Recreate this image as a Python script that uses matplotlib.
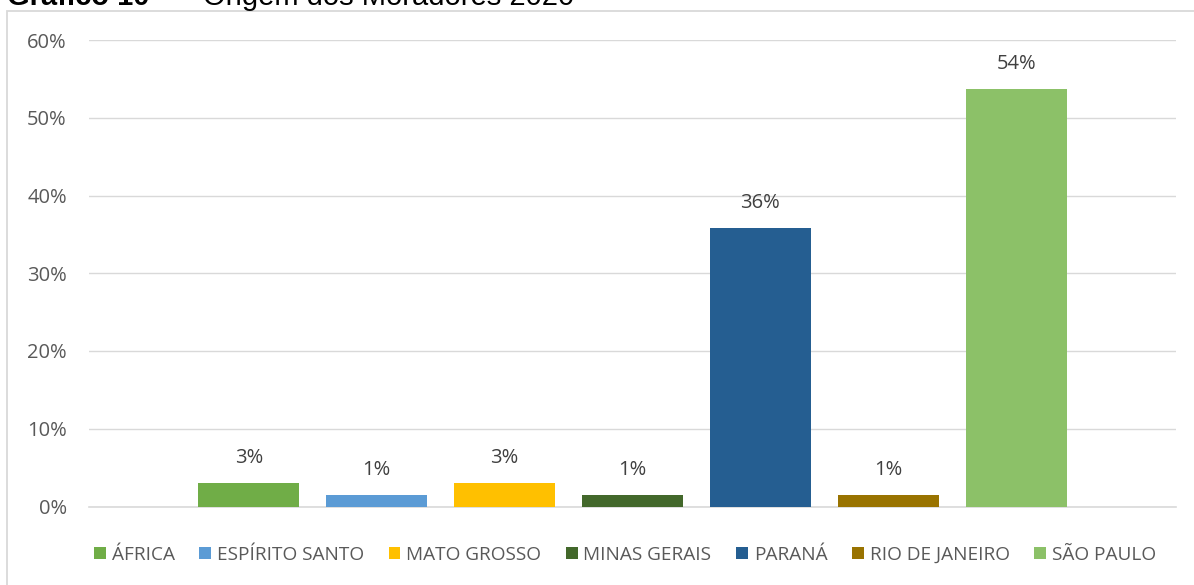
import matplotlib
matplotlib.use("Agg")
import matplotlib.pyplot as plt
from matplotlib.patches import Rectangle, Patch
from matplotlib.ticker import PercentFormatter

# origem dos moradores (fração do total)
estados = ["ÁFRICA", "ESPÍRITO SANTO", "MATO GROSSO", "MINAS GERAIS",
           "PARANÁ", "RIO DE JANEIRO", "SÃO PAULO"]
valores = [0.0299, 0.0149, 0.0299, 0.0149, 0.3582, 0.0149, 0.5373]
cores = ["#70AD47", "#5B9BD5", "#FFC000", "#43682B",
         "#255E91", "#997300", "#8CC168"]
yticks = [0, 0.1, 0.2, 0.3, 0.4, 0.5, 0.6]

W, H = 1194, 585
fig = plt.figure(figsize=(W / 100, H / 100), dpi=100)
fig.patch.set_facecolor("white")

# moldura do gráfico
fig.patches.append(Rectangle((7 / W, -0.1), 1.2, 1 - 11 / H + 0.1,
                             transform=fig.transFigure, fill=False,
                             edgecolor="#D9D9D9", linewidth=1.3))

# título (cortado no topo)
fig.text(7 / W, 1 - 5 / H, "Gráfico 10", family="Liberation Sans",
         weight="bold", fontsize=21, va="baseline", ha="left")
fig.text(178 / W, 1 - 5 / H, "–", family="Liberation Sans",
         fontsize=21, va="baseline", ha="center")
fig.text(203 / W, 1 - 5 / H, "Origem dos Moradores 2020",
         family="Liberation Sans", fontsize=21, va="baseline", ha="left")

ax = fig.add_axes([89 / W, (H - 506.5) / H, 1087 / W, (506.5 - 40) / H])
x = list(range(len(estados)))
ax.bar(x, valores, width=0.79, color=cores, zorder=3)

for xi, v in zip(x, valores):
    ax.annotate(f"{v * 100:.0f}%", (xi, v), xytext=(0, 18),
                textcoords="offset points", ha="center", va="center",
                fontsize=14.5, color="#404040", family="Open Sans")

ax.set_xlim(-1.25, 7.25)
ax.set_ylim(0, 0.6)
ax.set_yticks(yticks)
ax.yaxis.set_major_formatter(PercentFormatter(1.0, decimals=0))
ax.set_xticks([])
ax.grid(axis="y", color="#D9D9D9", linewidth=1.0, zorder=0)
for s in ["top", "right", "left"]:
    ax.spines[s].set_visible(False)
ax.spines["bottom"].set_color("#D9D9D9")
ax.spines["bottom"].set_linewidth(1.2)
ax.tick_params(axis="y", length=0, pad=16, labelsize=14.5, labelcolor="#595959")
for lb in ax.get_yticklabels():
    lb.set_family("Open Sans")

handles = [Patch(facecolor=c, edgecolor="none") for c in cores]
fig.legend(handles, estados, loc="center", ncol=7,
           bbox_to_anchor=(625 / W, 1 - 555 / H), frameon=False,
           prop={"family": "Open Sans", "size": 13.7},
           labelcolor="#595959", handlelength=0.62, handleheight=0.62,
           handletextpad=0.3, columnspacing=1.3)

fig.savefig("out.png", dpi=100)
